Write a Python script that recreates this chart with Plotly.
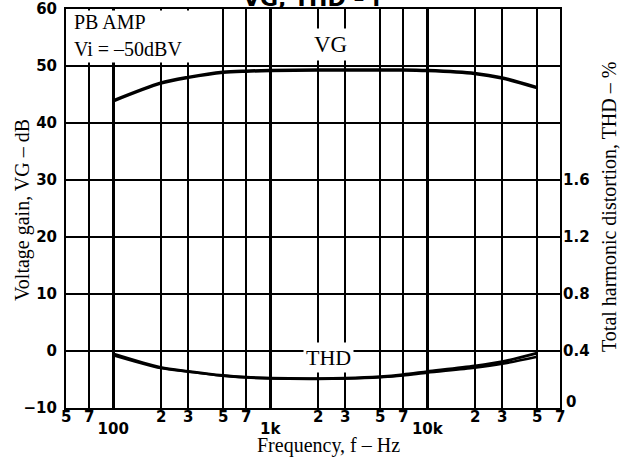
import numpy as np
import plotly.graph_objects as go

# frequency points (Hz)
freq = [100, 200, 300, 500, 700, 1000, 2000, 3000, 5000, 7000, 10000, 20000, 30000, 50000]
# voltage gain, dB
vg = [43.9, 47.0, 48.0, 48.9, 49.1, 49.2, 49.3, 49.3, 49.3, 49.3, 49.2, 48.7, 47.9, 46.2]
# total harmonic distortion, % (two channels, split at the top end)
thd_a = [0.38, 0.285, 0.257, 0.228, 0.216, 0.209, 0.206, 0.209, 0.220, 0.234, 0.255, 0.295, 0.325, 0.385]
thd_b = [0.37, 0.280, 0.255, 0.226, 0.215, 0.208, 0.205, 0.207, 0.216, 0.228, 0.248, 0.282, 0.310, 0.360]

# axis ticks
decade_vals = [100, 1000, 10000]
decade_text = ["100", "1k", "10k"]
minor_vals = [50, 70, 200, 300, 500, 700, 2000, 3000, 5000, 7000, 20000, 30000, 50000, 70000]
vg_ticks = [-10, 0, 10, 20, 30, 40, 50, 60]
thd_ticks = [0.4, 0.8, 1.2, 1.6]  # the "0" sits a bit higher, drawn as a label below

TICKFONT = dict(family="DejaVu Sans", size=15, color="black", weight="bold")
SERIF = "Liberation Serif"

# plot area in pixels: x 66..560, y 9..408
L, T, W, H = 66, 9, 494, 399


def px(x, y):
    # pixel position -> paper coords
    return (x - L) / W, (T + H - y) / H


fig = go.Figure()

fig.add_trace(go.Scatter(
    x=freq, y=vg, mode="lines",
    line=dict(color="black", width=3.5, shape="spline", smoothing=0.8),
    showlegend=False,
))
fig.add_trace(go.Scatter(
    x=freq, y=thd_a, mode="lines", yaxis="y2",
    line=dict(color="black", width=3, shape="spline", smoothing=0.8),
    showlegend=False,
))
fig.add_trace(go.Scatter(
    x=freq, y=thd_b, mode="lines", yaxis="y2",
    line=dict(color="black", width=2.5, shape="spline", smoothing=0.8),
    showlegend=False,
))

annotations = []


def label(x, y, text, size=20, family=SERIF, **kw):
    ax, ay = px(x, y)
    d = dict(x=ax, y=ay, xref="paper", yref="paper", text=text, showarrow=False,
             xanchor="center", yanchor="middle",
             font=dict(family=family, size=size, color="black"))
    d.update(kw)
    annotations.append(d)


# digit labels under the minor grid lines (5, 7, 2, 3 ...)
for f in minor_vals:
    annotations.append(dict(
        x=np.log10(f), xref="x", y=px(0, 417)[1], yref="paper",
        text=str(f)[0], showarrow=False, font=TICKFONT,
        xanchor="center", yanchor="middle",
    ))

# right axis zero
label(564, 402, "0", xanchor="left")
annotations[-1]["font"] = TICKFONT

# white label box top left
bx, by = px(68, 10)
annotations.append(dict(
    x=bx, y=by, xref="paper", yref="paper", xanchor="left", yanchor="top",
    text=" ", width=150, height=51, bgcolor="white", showarrow=False, borderpad=0,
))
label(72, 22, "PB AMP", xanchor="left")
label(72, 49, "Vi = \u201350dBV", xanchor="left")

# curve labels
label(330, 44, "VG", size=23, bgcolor="white", borderpad=3)
label(328, 357, "THD", size=22, bgcolor="white", borderpad=2)

# axis titles
label(328, 445, "Frequency, f \u2013 Hz")
label(22, 210, "Voltage gain, VG \u2013 dB", textangle=-90)
label(609, 207, "Total harmonic distortion, THD \u2013 %", textangle=-90)

# title, cut off at the top of the page
label(312, 13, "VG, THD \u2013 f", size=22, family="DejaVu Sans", yanchor="bottom")
annotations[-1]["font"]["weight"] = "bold"

fig.update_layout(
    width=622, height=457,
    margin=dict(l=L, r=622 - L - W, t=T, b=457 - T - H, autoexpand=False),
    paper_bgcolor="white", plot_bgcolor="white",
    xaxis=dict(
        type="log", range=[np.log10(50), np.log10(70000)],
        tickvals=decade_vals, ticktext=decade_text, tickfont=TICKFONT,
        ticks="", ticklabelstandoff=6, automargin=False,
        showgrid=True, gridcolor="black", gridwidth=2.5,
        minor=dict(tickvals=minor_vals, showgrid=True, gridcolor="black", gridwidth=1.5, ticks=""),
        showline=True, mirror=True, linecolor="black", linewidth=2,
        zeroline=False,
    ),
    yaxis=dict(
        range=[-10, 60], tickvals=vg_ticks, tickfont=TICKFONT,
        ticks="", ticklabelstandoff=4, automargin=False,
        showgrid=True, gridcolor="black", gridwidth=2,
        zeroline=False,
        showline=True, mirror=True, linecolor="black", linewidth=2,
    ),
    yaxis2=dict(
        overlaying="y", side="right", range=[0, 2.8], tickvals=thd_ticks,
        tickfont=TICKFONT, ticks="", ticklabelstandoff=2, automargin=False,
        showgrid=False, zeroline=False, showline=False,
    ),
    annotations=annotations,
)

# page body has a default 8px margin; drop it so the figure fills the window
fig.write_html("out.html", config={"displayModeBar": False},
               post_script="document.body.style.margin='0';")
